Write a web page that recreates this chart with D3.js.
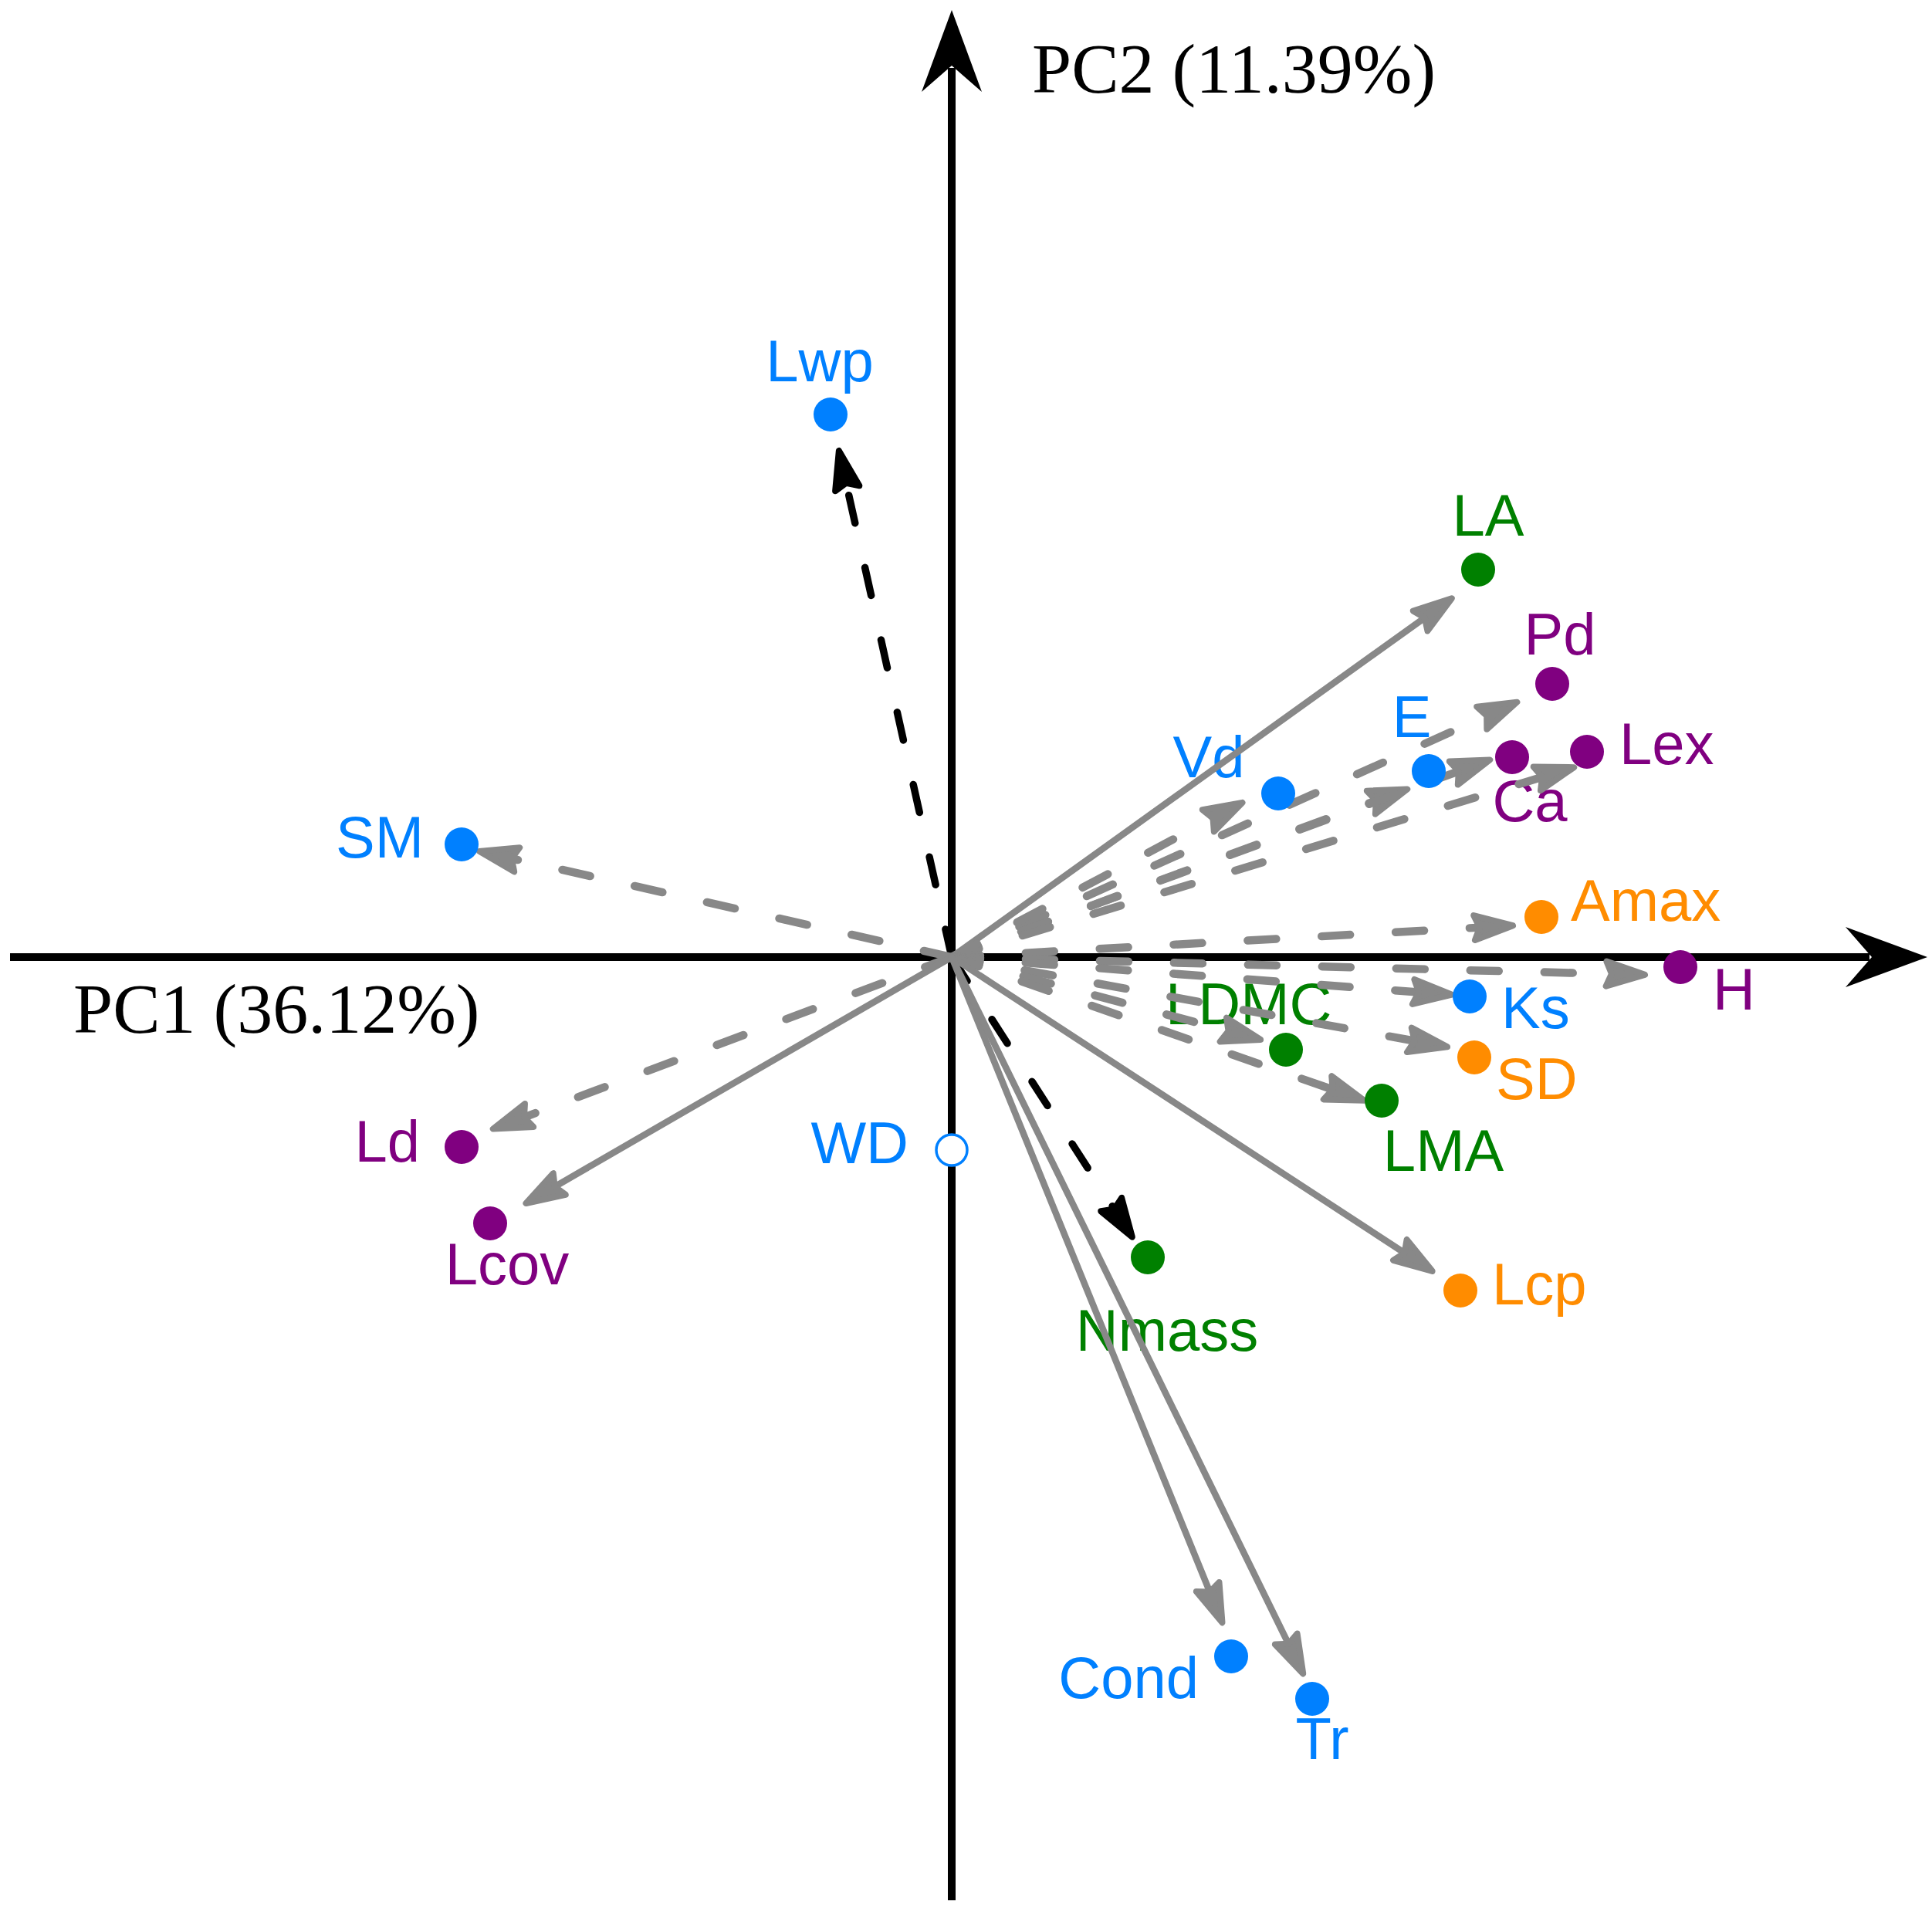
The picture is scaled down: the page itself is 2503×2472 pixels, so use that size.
<!doctype html>
<html>
<head>
<meta charset="UTF-8">
<title>PCA biplot</title>
<script src="https://d3js.org/d3.v7.min.js"></script>
<style>
  body { margin: 0; background: #fff; }
</style>
</head>
<body>
<script>
// trait names and their group (group decides the colour)
var traits = ["Lwp","LA","Pd","E","Ca","Lex","Vd","SM","Amax","H","Ks","SD","LDMC","LMA","Ld","Lcov","WD","Nmass","Lcp","Cond","Tr"];
var groups = ["hyd","leaf","arch","hyd","arch","arch","hyd","hyd","photo","arch","hyd","photo","leaf","leaf","arch","arch","hyd","leaf","photo","hyd","hyd"];

// point scores on PC1 / PC2
var pc1 = [-0.157, 0.682, 0.778, 0.618, 0.726, 0.823, 0.423, -0.635, 0.764, 0.944, 0.671, 0.677, 0.433, 0.557, -0.635, -0.598, 0.000, 0.254, 0.659, 0.362, 0.467];
var pc2 = [ 0.703, 0.502, 0.354, 0.241, 0.259, 0.266, 0.212, 0.146, 0.052, -0.013, -0.051, -0.130, -0.120, -0.186, -0.246, -0.345, -0.250, -0.389, -0.432, -0.906, -0.961];

// arrow ends (null = no arrow)
var arr1 = [-0.147, 0.651, 0.736, 0.594, 0.701, 0.810, 0.380, -0.616, 0.731, 0.902, 0.652, 0.646, 0.404, 0.538, -0.598, -0.555, null, 0.236, 0.626, 0.352, 0.457];
var arr2 = [ 0.660, 0.467, 0.332, 0.219, 0.257, 0.247, 0.202, 0.138, 0.041, -0.023, -0.049, -0.117, -0.108, -0.187, -0.224, -0.321, null, -0.366, -0.409, -0.866, -0.932];
// arrow kind: "k" black dashed, "d" grey dashed, "s" grey solid
var kind = ["k","s","d","d","d","d","d","d","d","d","d","d","d","d","d","s","","k","s","s","s"];

// label positions and anchors
var lab1 = [-0.171, 0.695, 0.788, 0.596, 0.749, 0.865, 0.333, -0.684, 0.802, 0.986, 0.712, 0.705, 0.277, 0.637, -0.689, -0.576, -0.056, 0.279, 0.700, 0.320, 0.480];
var lab2 = [ 0.746, 0.546, 0.392, 0.285, 0.176, 0.250, 0.233, 0.129, 0.047, -0.068, -0.092, -0.184, -0.087, -0.277, -0.265, -0.424, -0.267, -0.510, -0.450, -0.960, -1.039];
var anchor = ["middle","middle","middle","middle","middle","start","middle","end","start","start","start","start","start","middle","end","middle","end","middle","start","end","middle"];

var axisTitles = ["PC1 (36.12%)", "PC2 (11.39%)"];

var W = 2503, H = 2472;
var colour = {hyd: "#0080ff", leaf: "#008000", arch: "#800080", photo: "#ff8c00"};
var grey = "#888888";

var x = d3.scaleLinear().domain([-1.22, 1.264]).range([13, 2497]);
var y = d3.scaleLinear().domain([-1.222, 1.227]).range([2462, 13]);

var svg = d3.select("body").append("svg")
    .attr("width", W).attr("height", H);
svg.append("rect").attr("width", W).attr("height", H).attr("fill", "#fff");

var data = traits.map(function(t, i){
  return {name: t, g: groups[i], x: pc1[i], y: pc2[i], ax: arr1[i], ay: arr2[i],
          kind: kind[i], lx: lab1[i], ly: lab2[i], anchor: anchor[i]};
});

// axes
var axes = svg.append("g");
axes.append("line")
  .attr("x1", x(-1.22)).attr("y1", y(0)).attr("x2", x(1.264) - 75).attr("y2", y(0))
  .attr("stroke", "#000").attr("stroke-width", 10);
axes.append("line")
  .attr("x1", x(0)).attr("y1", y(-1.222)).attr("x2", x(0)).attr("y2", y(1.227) + 75)
  .attr("stroke", "#000").attr("stroke-width", 10);

function axisHead(tx, ty, rot){
  axes.append("path")
    .attr("d", "M0,0 L-106,-39 L-72,0 L-106,39 Z")
    .attr("transform", "translate(" + tx + "," + ty + ") rotate(" + rot + ")")
    .attr("fill", "#000");
}
axisHead(x(1.264), y(0), 0);
axisHead(x(0), y(1.227), -90);

axes.append("text")
  .attr("x", 95).attr("y", 1338)
  .attr("font-family", "'Liberation Serif', 'Times New Roman', serif")
  .attr("font-size", 92)
  .text(axisTitles[0]);
axes.append("text")
  .attr("x", 1337).attr("y", 120)
  .attr("font-family", "'Liberation Serif', 'Times New Roman', serif")
  .attr("font-size", 92)
  .text(axisTitles[1]);

// labels (drawn under the arrows, as in the original)
svg.append("g").selectAll("text")
  .data(data).enter().append("text")
  .attr("x", function(d){ return x(d.lx); })
  .attr("y", function(d){ return y(d.ly); })
  .attr("text-anchor", function(d){ return d.anchor; })
  .attr("font-family", "'Liberation Sans', Arial, sans-serif")
  .attr("font-size", 76)
  .attr("fill", function(d){ return colour[d.g]; })
  .text(function(d){ return d.name; });

// arrows
var withArrow = data.filter(function(d){ return d.ax !== null; })
  .sort(function(a, b){ return (a.kind === "k" ? 0 : 1) - (b.kind === "k" ? 0 : 1); });

var ag = svg.append("g");
withArrow.forEach(function(d){
  var col = d.kind === "k" ? "#000" : grey;
  var sw = d.kind === "s" ? 8.5 : (d.kind === "k" ? 9.5 : 10.5);
  var x0 = x(0), y0 = y(0), x1 = x(d.ax), y1 = y(d.ay);
  var ang = Math.atan2(y1 - y0, x1 - x0) * 180 / Math.PI;
  // stop the shaft inside the head
  var len = Math.hypot(x1 - x0, y1 - y0);
  var k = (len - 30) / len;
  var ln = ag.append("line")
    .attr("x1", x0).attr("y1", y0)
    .attr("x2", x0 + (x1 - x0) * k).attr("y2", y0 + (y1 - y0) * k)
    .attr("stroke", col).attr("stroke-width", sw)
    .attr("stroke-linecap", "round");
  if (d.kind !== "s") {
    ln.attr("stroke-dasharray", "37 59");
  }
  ag.append("path")
    .attr("d", "M-4,0 L-54,-16 L-47,0 L-54,16 Z")
    .attr("transform", "translate(" + x1 + "," + y1 + ") rotate(" + ang + ")")
    .attr("fill", col).attr("stroke", col).attr("stroke-width", 8)
    .attr("stroke-linejoin", "round");
});

// points
svg.append("g").selectAll("circle")
  .data(data).enter().append("circle")
  .attr("cx", function(d){ return x(d.x); })
  .attr("cy", function(d){ return y(d.y); })
  .attr("r", function(d){ return d.name === "WD" ? 20 : 22; })
  .attr("fill", function(d){ return d.name === "WD" ? "#fff" : colour[d.g]; })
  .attr("stroke", function(d){ return d.name === "WD" ? colour[d.g] : "none"; })
  .attr("stroke-width", 3.5);
</script>
</body>
</html>
